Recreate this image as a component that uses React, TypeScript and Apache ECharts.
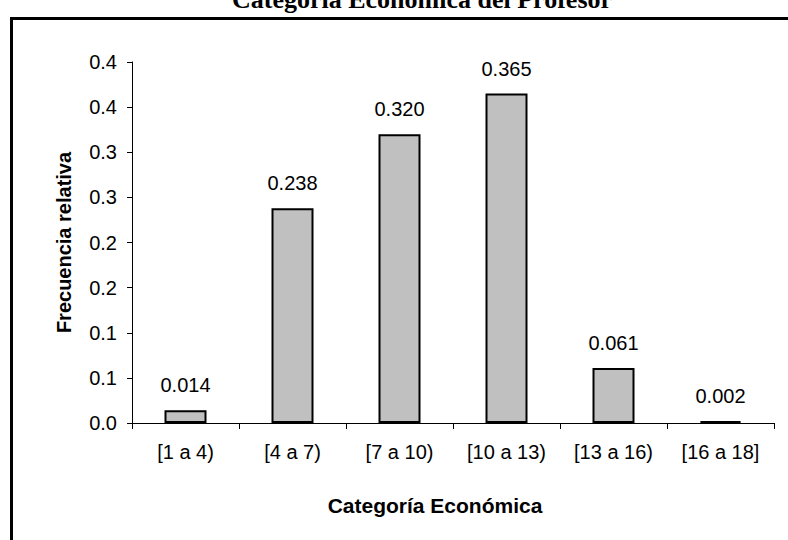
import React, { useEffect, useRef } from "react";
import * as echarts from "echarts";

const categories = ["[1 a 4)", "[4 a 7)", "[7 a 10)", "[10 a 13)", "[13 a 16)", "[16 a 18]"];
const frecuencias = [0.014, 0.238, 0.32, 0.365, 0.061, 0.002];
const yTickLabels = ["0.0", "0.1", "0.1", "0.2", "0.2", "0.3", "0.3", "0.4", "0.4"];
const yStep = 0.05;
const titleText = "Categoría Económica del Profesor";
const xName = "Categoría Económica";
const yName = "Frecuencia relativa";

const SANS = '"Liberation Sans", Arial, sans-serif';

export default function App() {
  const ref = useRef<HTMLDivElement>(null);
  useEffect(() => {
    if (!ref.current) return;
    const chart = echarts.init(ref.current, undefined, { renderer: "svg" });
    chart.setOption({
      animation: false,
      backgroundColor: "#ffffff",
      title: {
        text: titleText,
        left: 232,
        top: -14,
        padding: 0,
        textStyle: {
          fontFamily: '"Liberation Serif", "Times New Roman", serif',
          fontWeight: "bold",
          fontSize: 26,
          color: "#000",
        },
      },
      graphic: [
        {
          type: "polyline",
          silent: true,
          shape: { points: [[11.5, 560], [11.5, 18.5], [800, 18.5]] },
          style: { stroke: "#000", lineWidth: 3, fill: null },
        },
      ],
      grid: { left: 132, right: 14, top: 62, bottom: 117, containLabel: false },
      xAxis: {
        type: "category",
        data: categories,
        boundaryGap: true,
        name: xName,
        nameLocation: "middle",
        nameGap: 72,
        nameTextStyle: {
          fontFamily: SANS,
          fontWeight: "bold",
          fontSize: 21,
          color: "#000",
          padding: [0, 36, 0, 0],
        },
        axisLine: { lineStyle: { color: "#000", width: 1 } },
        axisTick: { show: true, length: 6, alignWithLabel: false, lineStyle: { color: "#000" } },
        axisLabel: { fontFamily: SANS, fontSize: 20, color: "#000", margin: 19, interval: 0 },
        splitLine: { show: false },
      },
      yAxis: {
        type: "value",
        min: 0,
        max: 0.4,
        interval: yStep,
        name: yName,
        nameLocation: "middle",
        nameGap: 58,
        nameTextStyle: {
          fontFamily: SANS,
          fontWeight: "bold",
          fontSize: 20,
          color: "#000",
        },
        axisLine: { show: true, lineStyle: { color: "#000", width: 1 } },
        axisTick: { show: true, length: 5, lineStyle: { color: "#000" } },
        axisLabel: {
          fontFamily: SANS,
          fontSize: 20,
          color: "#000",
          margin: 15,
          formatter: (v: number) => yTickLabels[Math.round(v / yStep)] ?? "",
        },
        splitLine: { show: false },
      },
      series: [
        {
          type: "bar",
          data: frecuencias,
          barWidth: 42,
          itemStyle: { color: "#C0C0C0", borderColor: "#000", borderWidth: 2 },
          label: {
            show: true,
            position: "top",
            distance: 15,
            fontFamily: SANS,
            fontSize: 20,
            color: "#000",
            formatter: (p: any) => (p.value as number).toFixed(3),
          },
        },
      ],
    });
    return () => chart.dispose();
  }, []);
  return (
    <div
      ref={ref}
      style={{ position: "fixed", left: 0, top: 0, width: 788, height: 540 }}
    />
  );
}
